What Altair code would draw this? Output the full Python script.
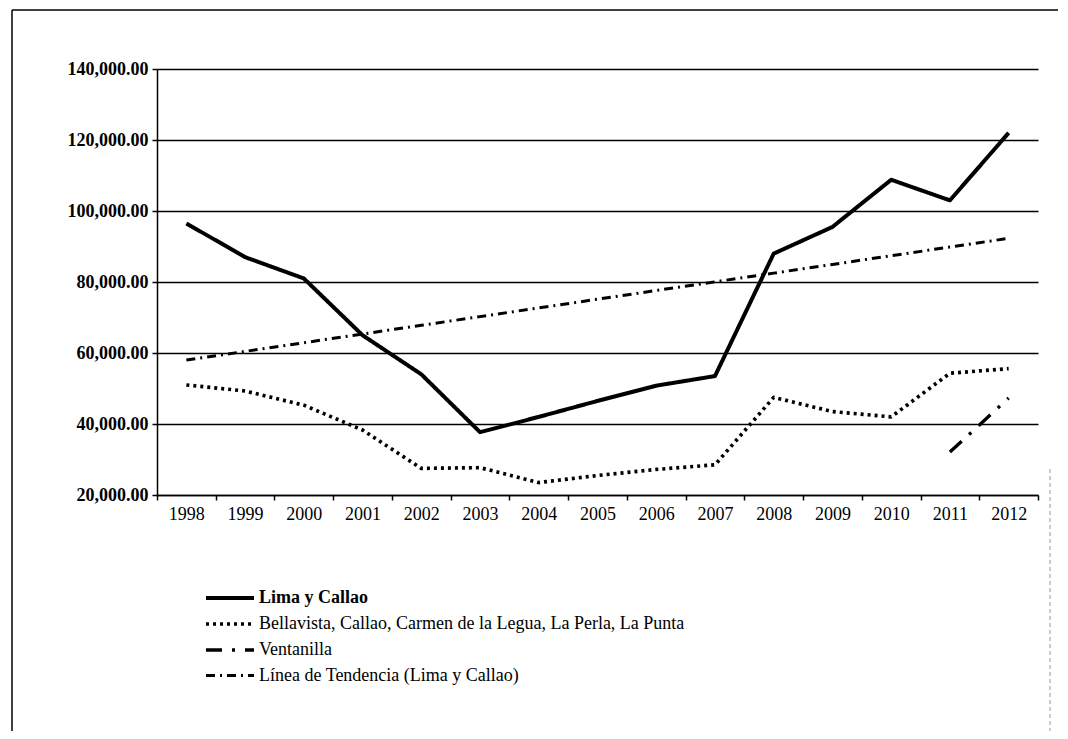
import altair as alt
import pandas as pd

years = [1998, 1999, 2000, 2001, 2002, 2003, 2004, 2005, 2006, 2007, 2008, 2009, 2010, 2011, 2012]
lima = [96500, 87000, 81000, 65000, 54000, 37700, 42000, 46500, 50800, 53500, 88000, 95500, 108800, 103000, 122000]
bella = [51000, 49300, 45300, 38300, 27500, 27700, 23500, 25500, 27200, 28500, 47500, 43500, 42000, 54300, 55600]
venta = [None, None, None, None, None, None, None, None, None, None, None, None, None, 32100, 47300]
trend = [58000, 60450, 62900, 65350, 67800, 70250, 72700, 75150, 77600, 80050, 82500, 84950, 87400, 89850, 92300]

series_names = [
    "Lima y Callao",
    "Bellavista, Callao, Carmen de la Legua, La Perla, La Punta",
    "Ventanilla",
    "Línea de Tendencia (Lima y Callao)",
]
y_ticks = [20000, 40000, 60000, 80000, 100000, 120000, 140000]

dashes = [[1, 0], [3, 4], [16, 10, 3, 10], [9, 5, 2, 5]]
widths = [4, 3, 5, 2.5]

rows = []
for name, vals in zip(series_names, [lima, bella, venta, trend]):
    for yr, v in zip(years, vals):
        if v is not None:
            rows.append({"year": str(yr), "value": v, "series": name})
df = pd.DataFrame(rows)

FONT = "Liberation Serif"
W, H = 881, 426

legend_def = dict(
    title=None, orient="none", legendX=59, legendY=515,
    symbolType="M-2,0H2", symbolSize=576, symbolStrokeColor="black",
    labelFont=FONT, labelFontSize=18, labelColor="black", labelOffset=15,
    rowPadding=3, padding=0, labelLimit=900,
    labelFontWeight=alt.ExprRef("datum.value === 'Lima y Callao' ? 'bold' : 'normal'"),
)

x_enc = alt.X(
    "year:O", title=None, bandPosition=0.5,
    scale=alt.Scale(type="band", paddingInner=0, paddingOuter=0),
    axis=alt.Axis(tickBand="extent", labelAngle=0, labelFont=FONT, labelFontSize=18,
                  labelColor="black", domainColor="black", domainWidth=1.5,
                  tickColor="black", tickSize=5, tickWidth=1.5, labelPadding=5, grid=False),
)
y_enc = alt.Y(
    "value:Q", title=None,
    scale=alt.Scale(domain=[20000, 140000], nice=False, zero=False),
    axis=alt.Axis(values=y_ticks, format=",.2f", labelFont=FONT, labelFontSize=18,
                  labelFontWeight="bold", labelColor="black", gridColor="black", gridWidth=1.5,
                  domainColor="black", domainWidth=1.5, tickColor="black", tickSize=5,
                  tickWidth=1.5, labelPadding=4),
)

lines = alt.Chart(df).mark_line(color="black", strokeJoin="round").encode(
    x=x_enc,
    y=y_enc,
    strokeDash=alt.StrokeDash("series:N", scale=alt.Scale(domain=series_names, range=dashes),
                              legend=alt.Legend(**legend_def)),
    strokeWidth=alt.StrokeWidth("series:N", scale=alt.Scale(domain=series_names, range=widths),
                                legend=alt.Legend(**legend_def)),
)

one = pd.DataFrame({"a": [0]})
frame_top = alt.Chart(one).mark_rule(color="black", strokeWidth=1.5).encode(
    x=alt.value(-145), x2=alt.value(W + 20), y=alt.value(-59))
frame_left = alt.Chart(one).mark_rule(color="black", strokeWidth=1.5).encode(
    x=alt.value(-145), y=alt.value(-59), y2=alt.value(662))
frame_right = alt.Chart(one).mark_rule(color="#999999", strokeWidth=1, strokeDash=[4, 3]).encode(
    x=alt.value(W + 12), y=alt.value(400), y2=alt.value(662))

chart = alt.layer(frame_top, frame_left, frame_right, lines).properties(
    width=W, height=H,
    autosize=alt.AutoSizeParams(type="none"),
    padding={"left": 149, "top": 61, "right": 22, "bottom": 236},
).configure(background="white").configure_view(stroke=None)

chart.save("out.html", embed_options={"renderer": "svg", "actions": False})
